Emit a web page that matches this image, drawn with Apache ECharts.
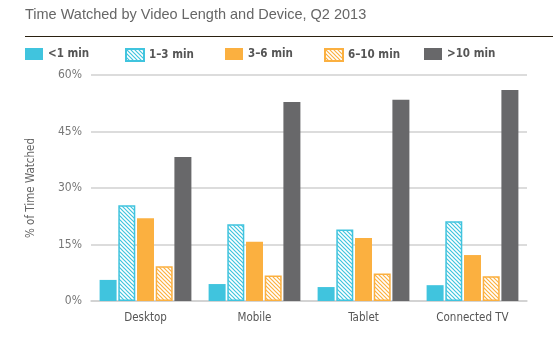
<!DOCTYPE html>
<html>
<head>
<meta charset="utf-8">
<script src="https://cdn.jsdelivr.net/npm/echarts@6/dist/echarts.min.js"></script>
<style>
  html, body { margin: 0; padding: 0; background: #fff; }
  #main { width: 553px; height: 353px; }
</style>
</head>
<body>
<div id="main"></div>
<script>
const devices = ['Desktop', 'Mobile', 'Tablet', 'Connected TV'];
const lessThan1 = [5.6, 4.5, 3.7, 4.2];
const oneToThree = [25.4, 20.4, 19.0, 21.2];
const threeToSix = [22.0, 15.7, 16.7, 12.2];
const sixToTen = [9.2, 6.8, 7.3, 6.6];
const moreThan10 = [38.2, 52.8, 53.4, 56.0];
const yTicks = [0, 15, 30, 45, 60];

const cyan = '#40c4de';
const orange = '#fbb040';
const grey = '#68686a';
const narrow = "'DejaVu Sans Condensed', 'Liberation Sans', sans-serif";

// diagonal hatch pattern
function hatch(color) {
  const c = document.createElement('canvas');
  const s = 4;
  c.width = s; c.height = s;
  const ctx = c.getContext('2d');
  ctx.fillStyle = '#fff';
  ctx.fillRect(0, 0, s, s);
  ctx.strokeStyle = color;
  ctx.lineWidth = 1.2;
  ctx.beginPath();
  ctx.moveTo(-1, -1); ctx.lineTo(s + 1, s + 1);
  ctx.moveTo(-1, s - 1); ctx.lineTo(1, s + 1);
  ctx.moveTo(s - 1, -1); ctx.lineTo(s + 1, 1);
  ctx.stroke();
  return {image: c, repeat: 'repeat'};
}

const chart = echarts.init(document.getElementById('main'));

const names = ['<1 min', '1–3 min', '3–6 min', '6–10 min', '>10 min'];
const legendX = [25, 125, 225, 324, 424];

const legendTpl = (name, i) => ({
  data: [name],
  left: legendX[i],
  top: 48,
  padding: 0,
  icon: 'rect',
  itemWidth: 18,
  itemHeight: 12,
  selectedMode: false,
  textStyle: {
    fontFamily: narrow,
    fontWeight: 'bold',
    fontSize: 11.5,
    color: '#555'
  }
});

function bar(name, data, style) {
  return {
    name: name,
    type: 'bar',
    data: data,
    barWidth: 17,
    barGap: '10%',
    itemStyle: style,
    emphasis: {disabled: true}
  };
}

chart.setOption({
  animation: false,
  title: {
    text: 'Time Watched by Video Length and Device, Q2 2013',
    left: 25,
    top: 7,
    padding: 0,
    textStyle: {
      fontFamily: 'Liberation Sans',
      fontWeight: 'normal',
      fontSize: 14.5,
      color: '#666'
    }
  },
  graphic: [{
    type: 'line',
    shape: {x1: 25, y1: 36.5, x2: 553, y2: 36.5},
    style: {stroke: '#2a2010', lineWidth: 1}
  }],
  legend: names.map(legendTpl),
  grid: {left: 91, right: 26, top: 75, bottom: 52},
  xAxis: {
    type: 'category',
    data: devices,
    axisTick: {show: false},
    axisLine: {lineStyle: {color: '#d0d0d0', width: 1.5}},
    axisLabel: {
      fontFamily: narrow,
      fontSize: 11.5,
      color: '#555',
      margin: 11
    }
  },
  yAxis: {
    type: 'value',
    min: 0,
    max: 60,
    interval: 15,
    name: '% of Time Watched',
    nameLocation: 'middle',
    nameGap: 54,
    nameTextStyle: {
      fontFamily: narrow,
      fontSize: 11.5,
      color: '#666'
    },
    axisLabel: {
      formatter: v => yTicks.includes(v) ? v + '%' : '',
      fontFamily: narrow,
      fontSize: 12,
      color: '#777',
      margin: 9
    },
    splitLine: {lineStyle: {color: '#d0d0d0', width: 1.5}}
  },
  series: [
    bar(names[0], lessThan1, {color: cyan}),
    bar(names[1], oneToThree, {color: hatch(cyan), borderColor: cyan, borderWidth: 1.5}),
    bar(names[2], threeToSix, {color: orange}),
    bar(names[3], sixToTen, {color: hatch(orange), borderColor: orange, borderWidth: 1.5}),
    bar(names[4], moreThan10, {color: grey})
  ]
});
</script>
</body>
</html>
